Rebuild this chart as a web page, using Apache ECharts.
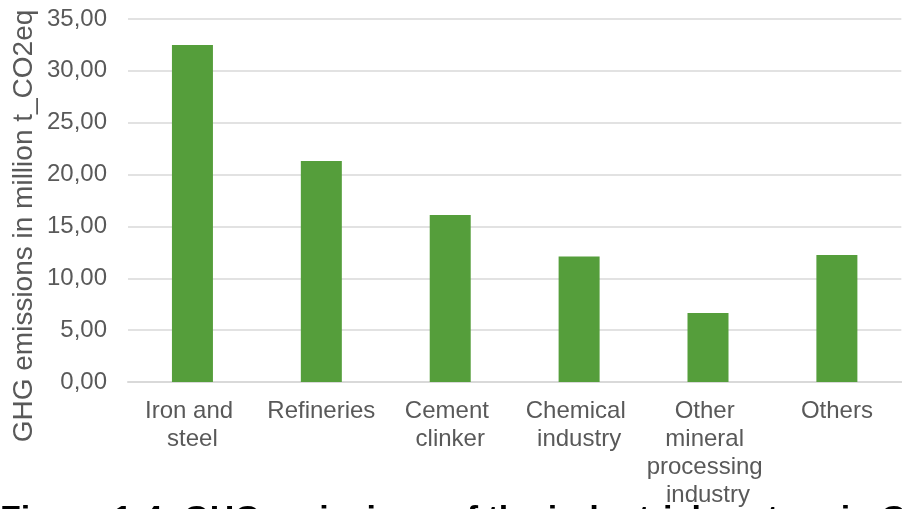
<!DOCTYPE html>
<html>
<head>
<meta charset="utf-8">
<script src="https://cdn.jsdelivr.net/npm/echarts@6/dist/echarts.min.js"></script>
<style>html,body{margin:0;padding:0;background:#fff;}#c{width:902px;height:509px;}</style>
</head>
<body>
<div id="c"></div>
<script>
const categories = ['Iron and steel', 'Refineries', 'Cement clinker', 'Chemical industry', 'Other mineral processing industry', 'Others'];
const emissions = [32.5, 21.3, 16.1, 12.1, 6.65, 12.25];
const yTicks = { min: 0, max: 35, interval: 5 };
const yAxisTitle = 'GHG emissions in million t_CO2eq';
const caption = 'Figure 1-4: GHG emissions of the industrial sectors in Germany';

const chart = echarts.init(document.getElementById('c'), null, { renderer: 'canvas' });
const font = 'Arial, "Liberation Sans", sans-serif';
chart.setOption({
  animation: false,
  grid: { left: 128, right: -4, top: 19, bottom: 125, containLabel: false },
  xAxis: {
    type: 'category',
    data: categories,
    axisLine: { lineStyle: { color: '#d9d9d9', width: 2 } },
    axisTick: { show: false },
    axisLabel: {
      color: '#595959', fontFamily: font, fontSize: 24, lineHeight: 28, margin: 15,
      interval: 0, width: 125, overflow: 'break'
    }
  },
  yAxis: {
    type: 'value',
    min: yTicks.min, max: yTicks.max, interval: yTicks.interval,
    axisLine: { show: false },
    axisTick: { show: false },
    splitLine: { lineStyle: { color: '#d9d9d9', width: 1.5 } },
    axisLabel: {
      color: '#595959', fontFamily: font, fontSize: 24, margin: 21,
      formatter: v => v.toFixed(2).replace('.', ',')
    }
  },
  series: [{
    type: 'bar',
    data: emissions,
    barWidth: 41,
    itemStyle: { color: '#559e3b' }
  }],
  graphic: [
    {
      type: 'text', x: 24, y: 226, rotation: Math.PI / 2,
      style: { text: yAxisTitle, fill: '#595959', font: '28px ' + font, align: 'center', verticalAlign: 'middle' }
    },
    {
      type: 'text', x: 0, y: 503,
      style: { text: caption, fill: '#000', font: 'bold 34px ' + font, align: 'left', verticalAlign: 'top' }
    }
  ]
});
</script>
</body>
</html>
